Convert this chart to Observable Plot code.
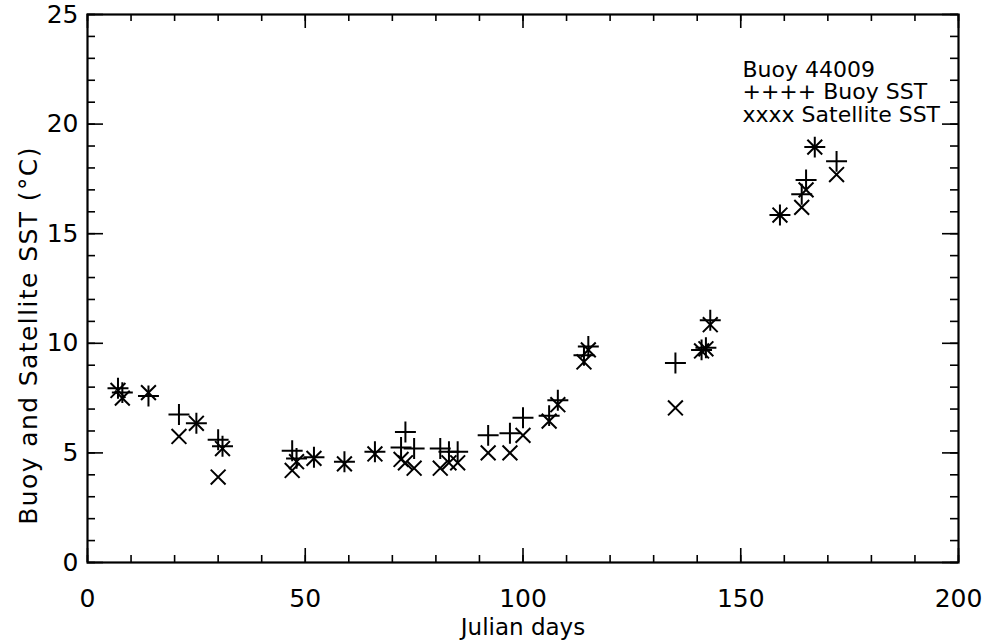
<!DOCTYPE html>
<html><head><meta charset="utf-8">
<script src="https://cdn.jsdelivr.net/npm/d3@7"></script>
<script src="https://cdn.jsdelivr.net/npm/@observablehq/plot@0.6"></script>
<style>
body{margin:0;background:#fff}
#chart svg{font-family:"DejaVu Sans",sans-serif}
</style>
</head><body><div id="chart"></div><script>
const days = [7,8,14,21,25,30,31,47,48,52,59,66,72,73,75,81,83,85,92,97,100,106,108,114,115,135,141,142,143,159,164,165,167,172];
const buoySST = [7.95,7.75,7.6,6.75,6.35,5.6,5.3,5.1,4.75,4.8,4.6,5.05,5.25,5.95,5.2,5.2,5.05,5.05,5.8,5.9,6.6,6.7,7.4,9.45,9.85,9.1,9.7,9.8,11.05,15.85,16.8,17.45,18.95,18.3];
const satelliteSST = [7.85,7.5,7.75,5.75,6.35,3.9,5.2,4.2,4.6,4.75,4.5,4.95,4.7,4.55,4.3,4.3,4.55,4.55,5.0,5.0,5.8,6.45,7.2,9.15,9.7,7.05,9.65,9.75,10.85,15.85,16.2,17.0,18.95,17.7];
const xTicks = [0,50,100,150,200];
const xMinorTicks = [0,10,20,30,40,50,60,70,80,90,100,110,120,130,140,150,160,170,180,190,200];
const yTicks = [0,5,10,15,20,25];
const yMinorTicks = [0,1,2,3,4,5,6,7,8,9,10,11,12,13,14,15,16,17,18,19,20,21,22,23,24,25];
const legendLines = ["Buoy 44009","++++ Buoy SST","xxxx Satellite SST"];
const xTitle = "Julian days";
const yTitle = "Buoy and Satellite SST (°C)";

const data = days.map((d,i)=>({day:d,buoy:buoySST[i],sat:satelliteSST[i]}));

const W = 983, H = 644, mL = 87, mR = 25, mT = 14, mB = 82;
const pw = W - mL - mR, ph = H - mT - mB;
const majY = 16, minY = 8, majX = 14, minX = 7;
const tickStyle = {stroke:"#000", strokeWidth:1.6};
const numFont = "'DejaVu Sans', sans-serif";

const chart = Plot.plot({
  width: W, height: H,
  marginLeft: mL, marginRight: mR, marginTop: mT, marginBottom: mB,
  style: {fontFamily: "DejaVu Sans", background: "#fff", color: "#000"},
  x: {domain: [0,200], axis: null},
  y: {domain: [0,25], axis: null},
  marks: [
    Plot.ruleY(yTicks,{y:d=>d, insetRight: pw - majY, ...tickStyle}),
    Plot.ruleY(yMinorTicks,{y:d=>d, insetRight: pw - minY, ...tickStyle}),
    Plot.ruleY(yTicks,{y:d=>d, insetLeft: pw - majY, ...tickStyle}),
    Plot.ruleY(yMinorTicks,{y:d=>d, insetLeft: pw - minY, ...tickStyle}),
    Plot.ruleX(xTicks,{x:d=>d, insetTop: ph - majX, ...tickStyle}),
    Plot.ruleX(xMinorTicks,{x:d=>d, insetTop: ph - minX, ...tickStyle}),
    Plot.ruleX(xTicks,{x:d=>d, insetBottom: ph - majX, ...tickStyle}),
    Plot.ruleX(xMinorTicks,{x:d=>d, insetBottom: ph - minX, ...tickStyle}),
    Plot.axisY(yTicks,{anchor:"left",tickSize:0,tickPadding:9,label:null,fontSize:25,fontFamily:numFont,tickFormat:d=>String(d)}),
    Plot.axisX(xTicks,{anchor:"bottom",tickSize:0,tickPadding:27,label:null,fontSize:25,fontFamily:numFont,tickFormat:d=>String(d)}),
    Plot.frame({stroke:"#000",strokeWidth:2.2}),
    Plot.dot(data,{x:"day",y:"buoy",symbol:"plus",r:6.8,stroke:"#000",strokeWidth:2}),
    Plot.dot(data,{x:"day",y:"sat",symbol:"times",r:6.8,stroke:"#000",strokeWidth:2}),
    Plot.text([legendLines.join("\n")],{frameAnchor:"top-left",dx:655,dy:46,lineAnchor:"top",textAnchor:"start",lineHeight:1.03,fontSize:22,fill:"#000"}),
    Plot.text([xTitle],{frameAnchor:"bottom",dy:72,lineAnchor:"bottom",fontSize:23,fill:"#000"}),
    Plot.text([yTitle],{frameAnchor:"left",dx:-59,dy:47,rotate:-90,textAnchor:"middle",fontSize:25,fill:"#000"})
  ]
});
chart.querySelectorAll("text").forEach(t=>{ if (t.textContent.startsWith("Buoy and")) t.setAttribute("letter-spacing","1.4"); });
document.getElementById("chart").append(chart);
</script></body></html>
